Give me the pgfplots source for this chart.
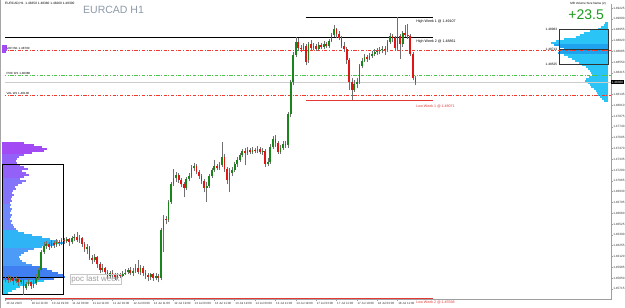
\documentclass[border=0pt]{standalone}
\usepackage{pgfplots}
\pgfplotsset{compat=1.18}
\usepackage{pgfplotstable}
\usepackage{fontspec}
\setmainfont{Liberation Sans}
\definecolor{bull}{HTML}{1A851A}
\definecolor{bear}{HTML}{E01515}
\definecolor{wick}{HTML}{707070}
\definecolor{ddred}{HTML}{F03A30}
\definecolor{ddgreen}{HTML}{4CC44C}
\definecolor{lwred}{HTML}{E53935}
\definecolor{ttl}{HTML}{8C99A8}
\definecolor{pos}{HTML}{1E9A1E}
\definecolor{vpA}{HTML}{A24BF5}
\definecolor{vpB}{HTML}{9361F7}
\definecolor{vpC}{HTML}{8474FA}
\definecolor{vpD}{HTML}{6F89FC}
\definecolor{vpE}{HTML}{2FB4F5}
\definecolor{vpF}{HTML}{4C9CF7}
\definecolor{vpG}{HTML}{3F7FF2}
\definecolor{vpH}{HTML}{20CCF5}
\definecolor{vpR}{HTML}{2BC4F6}
\definecolor{vpRd}{HTML}{1FA3EE}

% hourly candles: x = hours since 10 Jul 00:00 (weekend removed)
\pgfplotstableread{
x o h l c
1 1.4584 1.4587 1.4580 1.4585
2 1.4585 1.4589 1.4579 1.4582
3 1.4582 1.4588 1.4580 1.4585
4 1.4585 1.4586 1.4576 1.4581
5 1.4581 1.4588 1.4579 1.4584
6 1.4584 1.4585 1.4575 1.4580
7 1.4580 1.4585 1.4578 1.4582
8 1.4582 1.4584 1.4564 1.4572
9 1.4572 1.4580 1.4570 1.4578
10 1.4578 1.4584 1.4575 1.4580
11 1.4580 1.4581 1.4571 1.4575
12 1.4575 1.4582 1.4572 1.4579
13 1.4579 1.4590 1.4576 1.4585
14 1.4585 1.4598 1.4582 1.4595
15 1.4595 1.4620 1.4592 1.4618
16 1.4618 1.4630 1.4615 1.4625
17 1.4625 1.4631 1.4621 1.4628
18 1.4628 1.4630 1.4620 1.4624
19 1.4624 1.4632 1.4622 1.4629
20 1.4629 1.4631 1.4622 1.4626
21 1.4626 1.4634 1.4624 1.4630
22 1.4630 1.4632 1.4625 1.4629
23 1.4629 1.4635 1.4626 1.4632
24 1.4632 1.4635 1.4628 1.4631
25 1.4631 1.4636 1.4629 1.4634
26 1.4634 1.4635 1.4625 1.4630
27 1.4630 1.4638 1.4628 1.4635
28 1.4635 1.4640 1.4631 1.4636
29 1.4636 1.4642 1.4630 1.4632
30 1.4632 1.4639 1.4629 1.4635
31 1.4635 1.4636 1.4624 1.4628
32 1.4628 1.4630 1.4618 1.4621
33 1.4621 1.4628 1.4615 1.4624
34 1.4624 1.4625 1.4608 1.4610
35 1.4610 1.4614 1.4602 1.4608
36 1.4608 1.4615 1.4605 1.4611
37 1.4611 1.4612 1.4598 1.4602
38 1.4602 1.4605 1.4591 1.4595
39 1.4595 1.4602 1.4592 1.4598
40 1.4598 1.4599 1.4590 1.4592
41 1.4592 1.4595 1.4584 1.4588
42 1.4588 1.4594 1.4585 1.4591
43 1.4591 1.4595 1.4585 1.4589
44 1.4589 1.4592 1.4582 1.4586
45 1.4586 1.4592 1.4584 1.4590
46 1.4590 1.4591 1.4585 1.4588
47 1.4588 1.4594 1.4586 1.4590
48 1.4590 1.4596 1.4589 1.4592
49 1.4592 1.4598 1.4590 1.4595
50 1.4595 1.4599 1.4589 1.4591
51 1.4591 1.4598 1.4588 1.4594
52 1.4594 1.4602 1.4591 1.4598
53 1.4598 1.4608 1.4590 1.4592
54 1.4592 1.4601 1.4589 1.4598
55 1.4598 1.4600 1.4588 1.4591
56 1.4591 1.4595 1.4584 1.4589
57 1.4589 1.4591 1.4581 1.4586
58 1.4586 1.4592 1.4582 1.4590
59 1.4590 1.4592 1.4581 1.4585
60 1.4585 1.4591 1.4582 1.4588
61 1.4588 1.4590 1.4580 1.4585
62 1.4585 1.4648 1.4582 1.4645
63 1.4645 1.4664 1.4618 1.4659
64 1.4659 1.4662 1.4652 1.4658
65 1.4658 1.4682 1.4655 1.4680
66 1.4680 1.4705 1.4678 1.4702
67 1.4702 1.4721 1.4700 1.4710
68 1.4710 1.4718 1.4705 1.4714
69 1.4714 1.4716 1.4704 1.4708
70 1.4708 1.4710 1.4699 1.4702
71 1.4702 1.4705 1.4686 1.4698
72 1.4698 1.4711 1.4695 1.4709
73 1.4709 1.4716 1.4706 1.4712
74 1.4712 1.4726 1.4710 1.4722
75 1.4722 1.4729 1.4719 1.4725
76 1.4725 1.4728 1.4715 1.4718
77 1.4718 1.4720 1.4709 1.4712
78 1.4712 1.4715 1.4702 1.4706
79 1.4706 1.4709 1.4692 1.4698
80 1.4698 1.4705 1.4680 1.4700
81 1.4700 1.4715 1.4698 1.4712
82 1.4712 1.4722 1.4710 1.4720
83 1.4720 1.4732 1.4718 1.4725
84 1.4725 1.4728 1.4720 1.4722
85 1.4722 1.4730 1.4720 1.4726
86 1.4726 1.4755 1.4724 1.4736
87 1.4736 1.4740 1.4718 1.4721
88 1.4721 1.4724 1.4702 1.4708
89 1.4708 1.4722 1.4692 1.4716
90 1.4716 1.4724 1.4712 1.4720
91 1.4720 1.4730 1.4718 1.4728
92 1.4728 1.4736 1.4724 1.4732
93 1.4732 1.4741 1.4730 1.4739
94 1.4739 1.4746 1.4736 1.4744
95 1.4744 1.4748 1.4726 1.4741
96 1.4741 1.4749 1.4739 1.4745
97 1.4745 1.4748 1.4740 1.4742
98 1.4742 1.4749 1.4740 1.4745
99 1.4745 1.4748 1.4741 1.4744
100 1.4744 1.4750 1.4741 1.4746
101 1.4746 1.4749 1.4740 1.4742
102 1.4742 1.4748 1.4739 1.4744
103 1.4744 1.4746 1.4724 1.4728
104 1.4728 1.4735 1.4725 1.4730
105 1.4730 1.4752 1.4728 1.4749
106 1.4749 1.4762 1.4746 1.4759
107 1.4759 1.4764 1.4749 1.4754
108 1.4754 1.4756 1.4740 1.4742
109 1.4742 1.4751 1.4740 1.4748
110 1.4748 1.4756 1.4745 1.4752
111 1.4752 1.4756 1.4748 1.4751
112 1.4751 1.4792 1.4748 1.4790
113 1.4790 1.4832 1.4786 1.4830
114 1.4830 1.4868 1.4826 1.4864
115 1.4864 1.4886 1.4861 1.4880
116 1.4880 1.4885 1.4869 1.4872
117 1.4872 1.4876 1.4868 1.4871
118 1.4871 1.4879 1.4869 1.4875
119 1.4875 1.4878 1.4851 1.4855
120 1.4858 1.4880 1.4854 1.4878
121 1.4878 1.4882 1.4870 1.4872
122 1.4872 1.4879 1.4870 1.4875
123 1.4875 1.4878 1.4869 1.4871
124 1.4871 1.4880 1.4870 1.4876
125 1.4876 1.4879 1.4871 1.4874
126 1.4874 1.4881 1.4871 1.4878
127 1.4878 1.4880 1.4872 1.4875
128 1.4875 1.4884 1.4872 1.4881
129 1.4881 1.4891 1.4880 1.4889
130 1.4889 1.4901 1.4886 1.4896
131 1.4896 1.4898 1.4885 1.4890
132 1.4890 1.4894 1.4882 1.4885
133 1.4885 1.4888 1.4872 1.4875
134 1.4875 1.4880 1.4868 1.4871
135 1.4871 1.4874 1.4852 1.4858
136 1.4858 1.4860 1.4820 1.4830
137 1.4830 1.4835 1.4808 1.4820
138 1.4820 1.4832 1.4818 1.4828
139 1.4828 1.4835 1.4822 1.4830
140 1.4830 1.4852 1.4828 1.4850
141 1.4850 1.4860 1.4848 1.4856
142 1.4856 1.4865 1.4855 1.4861
143 1.4861 1.4864 1.4855 1.4859
144 1.4859 1.4866 1.4858 1.4862
145 1.4862 1.4869 1.4860 1.4865
146 1.4865 1.4871 1.4862 1.4868
147 1.4868 1.4872 1.4864 1.4869
148 1.4869 1.4874 1.4865 1.4870
149 1.4870 1.4875 1.4866 1.4871
150 1.4871 1.4875 1.4864 1.4870
151 1.4870 1.4882 1.4868 1.4880
152 1.4880 1.4891 1.4878 1.4888
153 1.4888 1.4890 1.4880 1.4885
154 1.4885 1.4888 1.4870 1.4872
155 1.4872 1.4911 1.4870 1.4888
156 1.4888 1.4890 1.4859 1.4878
157 1.4878 1.4894 1.4874 1.4891
158 1.4891 1.4901 1.4886 1.4889
159 1.4889 1.4903 1.4884 1.4888
160 1.4888 1.4890 1.4862 1.4865
161 1.4865 1.4868 1.4832 1.4835
162 1.4835 1.4838 1.4826 1.4830
}\candles

% volume profile of last week: price, volume, colour band
\pgfplotstableread{
p w g
1.48750 5 1
1.48725 5 1
1.48700 5 1
1.48675 4 1
1.475375 22 1
1.475125 32 1
1.474875 40 1
1.474625 45 1
1.474375 42 1
1.474125 30 1
1.473875 22 2
1.473625 17 2
1.473375 15 2
1.473125 14 2
1.472875 15 2
1.472625 18 2
1.472375 22 2
1.472125 26 2
1.471875 20 2
1.471625 24 2
1.471375 27 2
1.471125 22 2
1.470875 18 3
1.470625 24 3
1.470375 20 3
1.470125 16 3
1.469875 13 3
1.469625 14 3
1.469375 11 3
1.469125 10 3
1.468875 12 3
1.468625 10 3
1.468375 9 3
1.468125 10 3
1.467875 8 3
1.467625 9 4
1.467375 8 4
1.467125 10 4
1.466875 9 4
1.466625 8 4
1.466375 10 4
1.466125 9 4
1.465875 8 4
1.465625 10 4
1.465375 9 4
1.465125 11 4
1.464875 12 4
1.464625 14 4
1.464375 16 5
1.464125 22 5
1.463875 30 5
1.463625 40 5
1.463375 48 5
1.463125 56 5
1.462875 62 5
1.462625 52 5
1.462375 40 5
1.462125 32 6
1.461875 26 6
1.461625 22 6
1.461375 19 6
1.461125 17 6
1.460875 18 6
1.460625 20 6
1.460375 24 6
1.460125 30 6
1.459875 38 7
1.459625 45 7
1.459375 50 7
1.459125 56 7
1.458875 62 7
1.458625 63 7
1.458375 52 7
1.458125 42 8
1.457875 34 8
1.457625 25 8
1.457375 18 8
1.457125 14 8
1.456875 10 8
1.456625 6 8
}\lastweek

% volume profile of this week
\pgfplotstableread{
p w g
1.490375 3 1
1.490125 4 1
1.489875 7 1
1.489625 10 1
1.489375 18 1
1.489125 24 1
1.488875 28 1
1.488625 32 1
1.488375 44 1
1.488125 52 1
1.487875 57 1
1.487625 54 2
1.487375 48 2
1.487125 44 2
1.486875 48 2
1.486625 50 2
1.486375 44 1
1.486125 40 1
1.485875 36 1
1.485625 33 1
1.485375 29 1
1.485125 26 1
1.484875 22 1
1.484625 20 1
1.484375 18 1
1.484125 17 1
1.483875 16 1
1.483625 19 1
1.483375 22 1
1.483125 23 1
1.482875 20 1
1.482625 18 1
1.482375 17 1
1.482125 14 1
1.481875 12 1
1.481625 11 1
1.481375 10 1
1.481125 8 1
1.480875 6 1
1.480625 4 1
}\thisweek

\pgfplotsset{
  errorsonly/.style={draw=none, no markers},
  vpbar/.style n args={3}{errorsonly,
    restrict expr to domain={\thisrow{g}}{#1:#1},
    error bars/.cd, x dir=#2, x explicit, error mark=none,
    error bar style={draw=#3, solid, line width=2.15pt}},
  dashdot/.style={line width=0.8pt, dash pattern=on 3.2pt off 1.6pt on 0.9pt off 1.6pt},
}

\begin{document}
\begin{tikzpicture}[x=1pt,y=1pt]
\useasboundingbox (0,0) rectangle (625,308);
\fill[white] (0,0) rectangle (625,308);

% ---------- volume profiles ----------
\begin{axis}[at={(2,10.5)}, anchor=south west, width=606pt, height=295.5pt,
  scale only axis, xmin=0, xmax=606, ymin=1.4558125, ymax=1.49275,
  hide axis, clip mode=individual]
  \addplot[vpbar={1}{plus}{vpA}] table[x expr=0, y=p, x error=w] {\lastweek};
  \addplot[vpbar={2}{plus}{vpB}] table[x expr=0, y=p, x error=w] {\lastweek};
  \addplot[vpbar={3}{plus}{vpC}] table[x expr=0, y=p, x error=w] {\lastweek};
  \addplot[vpbar={4}{plus}{vpD}] table[x expr=0, y=p, x error=w] {\lastweek};
  \addplot[vpbar={5}{plus}{vpE}] table[x expr=0, y=p, x error=w] {\lastweek};
  \addplot[vpbar={6}{plus}{vpF}] table[x expr=0, y=p, x error=w] {\lastweek};
  \addplot[vpbar={7}{plus}{vpG}] table[x expr=0, y=p, x error=w] {\lastweek};
  \addplot[vpbar={8}{plus}{vpH}] table[x expr=0, y=p, x error=w] {\lastweek};
  \addplot[vpbar={1}{minus}{vpR}] table[x expr=606, y=p, x error=w] {\thisweek};
  \addplot[vpbar={2}{minus}{vpRd}] table[x expr=606, y=p, x error=w] {\thisweek};
  % boxes around value areas
  \draw[black, line width=0.6pt] (axis cs:0,1.47275) rectangle (axis cs:61,1.4565);
  \draw[black, line width=0.8pt] (axis cs:0,1.458625) -- (axis cs:61,1.458625);
  \draw[black!80, line width=0.6pt] (axis cs:557,1.489625) rectangle (axis cs:606,1.48525);
  \draw[black!80, line width=0.6pt] (axis cs:557,1.487125) -- (axis cs:606,1.487125);
  \node[anchor=east, font=\fontsize{3.2}{3.5}\selectfont, inner sep=0.6pt] at (axis cs:556,1.489625) {1.48963};
  \node[anchor=east, font=\fontsize{3.2}{3.5}\selectfont, inner sep=0.6pt] at (axis cs:556,1.487125) {1.48713};
  \node[anchor=east, font=\fontsize{3.2}{3.5}\selectfont, inner sep=0.6pt] at (axis cs:556,1.48525) {1.48525};
\end{axis}

% ---------- price chart ----------
\begin{axis}[at={(2,10.5)}, anchor=south west, width=606pt, height=295.5pt,
  scale only axis, xmin=0.79, xmax=238.9, ymin=1.4558125, ymax=1.49275,
  axis x line*=bottom, axis y line*=right,
  axis line style={draw=gray!75, line width=0.6pt},
  tick align=outside, major tick length=1.5pt,
  tick style={draw=gray!75, line width=0.4pt},
  scaled y ticks=false,
  ytick={1.45715,1.45850,1.45985,1.46120,1.46255,1.46390,1.46525,1.46660,1.46795,1.46930,1.47065,1.47200,1.47335,1.47470,1.47605,1.47740,1.47875,1.48010,1.48145,1.48415,1.48550,1.48685,1.48820,1.48955,1.49090,1.49225},
  yticklabel style={font=\fontsize{3.1}{3.5}\selectfont, text=black!80, inner sep=0.5pt,
    /pgf/number format/fixed, /pgf/number format/fixed zerofill,
    /pgf/number format/precision=5, /pgf/number format/assume math mode=true},
  xtick={1,11,19,27,35,43,51,59,67,75,83,91,99,107,115,123,131,139,147,155},
  xticklabels={10 Jul 2023,10 Jul 11:00,10 Jul 19:00,11 Jul 03:00,11 Jul 11:00,11 Jul 19:00,12 Jul 03:00,12 Jul 11:00,12 Jul 19:00,13 Jul 03:00,13 Jul 11:00,13 Jul 19:00,14 Jul 03:00,14 Jul 11:00,14 Jul 19:00,17 Jul 03:00,17 Jul 11:00,17 Jul 19:00,18 Jul 03:00,18 Jul 11:00},
  xticklabel style={anchor=north west, font=\fontsize{3}{3.5}\selectfont, text=black!80, inner sep=0.8pt, xshift=-0.3pt},
  clip mode=individual]

  % level lines
  \addplot[ddred, dashdot] coordinates {(0,1.48700) (240,1.48700)};
  \addplot[ddgreen, dashdot] coordinates {(0,1.48388) (240,1.48388)};
  \addplot[gray!40, line width=0.6pt] coordinates {(0,1.48300) (240,1.48300)};
  \addplot[ddred, dashdot] coordinates {(0,1.48138) (240,1.48138)};
  \addplot[black, line width=1.1pt] coordinates {(119,1.49107) (169,1.49107)};
  \addplot[black, line width=1.1pt] coordinates {(0,1.48861) (169,1.48861)};
  \addplot[lwred, line width=1.1pt] coordinates {(119,1.48071) (169,1.48071)};
  \addplot[lwred, line width=1.1pt] coordinates {(0,1.45598) (169,1.45598)};

  % candles: wicks, rising bodies, falling bodies
  \addplot[errorsonly, error bars/.cd, y dir=plus, y explicit, error mark=none,
    error bar style={draw=wick, solid, line width=0.5pt}]
    table[x=x, y=l, y error plus expr=\thisrow{h}-\thisrow{l}, y error minus expr=0] {\candles};
  \addplot[errorsonly, restrict expr to domain={\thisrow{c}-\thisrow{o}}{0:1},
    error bars/.cd, y dir=plus, y explicit, error mark=none,
    error bar style={draw=bull, solid, line width=1.7pt}]
    table[x=x, y=o, y error plus expr=\thisrow{c}-\thisrow{o}, y error minus expr=0] {\candles};
  \addplot[errorsonly, restrict expr to domain={\thisrow{o}-\thisrow{c}}{0.00001:1},
    error bars/.cd, y dir=plus, y explicit, error mark=none,
    error bar style={draw=bear, solid, line width=1.7pt}]
    table[x=x, y=c, y error plus expr=\thisrow{o}-\thisrow{c}, y error minus expr=0] {\candles};

  % line labels
  \node[anchor=west, font=\fontsize{3.6}{4}\selectfont, inner sep=0pt] at (axis cs:162.3,1.49062) {High Week 1 @ 1.49107};
  \node[anchor=west, font=\fontsize{3.6}{4}\selectfont, inner sep=0pt] at (axis cs:162.3,1.48812) {High Week 2 @ 1.48861};
  \node[anchor=west, font=\fontsize{3.6}{4}\selectfont, text=lwred, inner sep=0pt] at (axis cs:162.3,1.48000) {Low Week 1 @ 1.48071};
  \node[anchor=west, font=\fontsize{3.6}{4}\selectfont, text=lwred, inner sep=0pt] at (axis cs:162.3,1.45550) {Low Week 2 @ 1.45598};
  \node[anchor=south west, font=\fontsize{3}{3.5}\selectfont, inner sep=0.3pt] at (axis cs:1.2,1.48705) {VAH W1 1.48700};
  \node[anchor=south west, font=\fontsize{3}{3.5}\selectfont, inner sep=0.3pt] at (axis cs:1.2,1.48393) {POC W1 1.48388};
  \node[anchor=south west, font=\fontsize{3}{3.5}\selectfont, inner sep=0.3pt] at (axis cs:1.2,1.48143) {VAL W1 1.48138};
  % current price tag
  \node[anchor=west, fill=black, text=white, font=\fontsize{3.1}{3.5}\selectfont, inner sep=0.6pt] at (axis cs:238.9,1.48300) {1.48300};
\end{axis}

% frame and texts
\draw[gray!70, line width=0.8pt] (0.6,0) -- (0.6,308);
\node[anchor=west, font=\fontsize{3.2}{3.5}\selectfont, inner sep=0pt] at (5,304.5) {EURCAD,H1\ \ 1.48350 1.48380 1.48260 1.48300};
\node[anchor=west, font=\fontsize{10.5}{12}\selectfont, text=ttl, inner sep=0pt] at (83,298) {EURCAD H1};
\node[anchor=east, font=\fontsize{3}{3.5}\selectfont, inner sep=0pt] at (606,304) {MR Volume Size Name (2)};
\node[anchor=east, font=\fontsize{14}{16}\selectfont, text=pos, inner sep=0pt] at (604,293) {+23.5};
\node[draw=gray!45, text=gray!75, font=\fontsize{8}{9}\selectfont, inner sep=1pt] at (95.5,29) {poc last week};
\end{tikzpicture}
\end{document}
